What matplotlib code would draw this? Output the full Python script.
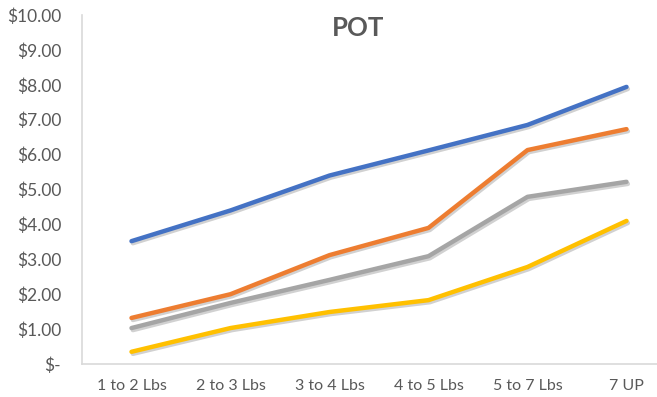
import numpy as np
import matplotlib.pyplot as plt
import matplotlib.patheffects as pe

plt.rcParams['font.family'] = ['Lato', 'DejaVu Sans']

categories = ["1 to 2 Lbs", "2 to 3 Lbs", "3 to 4 Lbs", "4 to 5 Lbs", "5 to 7 Lbs", "7 UP"]

blue = [3.52, 4.40, 5.40, 6.12, 6.85, 7.94]
orange = [1.32, 2.00, 3.12, 3.90, 6.13, 6.73]
gray = [1.03, 1.75, 2.41, 3.09, 4.79, 5.22]
yellow = [0.35, 1.03, 1.49, 1.83, 2.78, 4.10]

series = [
    (blue, "#4472C4"),
    (orange, "#ED7D31"),
    (gray, "#A5A5A5"),
    (yellow, "#FFC000"),
]

y_ticks = [0, 1, 2, 3, 4, 5, 6, 7, 8, 9, 10]
y_labels = ["$-"] + ["${:.2f}".format(v) for v in y_ticks[1:]]

fig = plt.figure(figsize=(6.57, 3.97), dpi=100)
ax = fig.add_axes([82/657, 33/397, (676-82)/657, (364-15)/397])

x = np.arange(len(categories))
shadow = [pe.SimpleLineShadow(offset=(1.0, -1.5), alpha=0.18, shadow_color="black"), pe.Normal()]
for vals, col in series:
    ax.plot(x, vals, color=col, linewidth=3.2, solid_capstyle="round",
            solid_joinstyle="round", path_effects=shadow)

ax.set_xlim(-0.5, len(categories) - 0.5)
ax.set_ylim(0, 10)
ax.set_xticks(x)
ax.set_xticklabels(categories)
ax.set_yticks(y_ticks)
ax.set_yticklabels(y_labels)

for s in ["top", "right"]:
    ax.spines[s].set_visible(False)
ax.spines["left"].set_color("#D9D9D9")
ax.spines["bottom"].set_color("#D9D9D9")
ax.spines["left"].set_linewidth(1.2)
ax.spines["bottom"].set_linewidth(1.2)

ax.tick_params(axis="both", length=0, labelcolor="#595959")
ax.tick_params(axis="y", pad=15, labelsize=12.5)
ax.tick_params(axis="x", pad=11, labelsize=11.5)

fig.text(358/657, 1 - 28/397, "POT", ha="center", va="center",
         fontsize=18.5, fontweight="bold", color="#595959")

fig.savefig("out.png", dpi=100)
